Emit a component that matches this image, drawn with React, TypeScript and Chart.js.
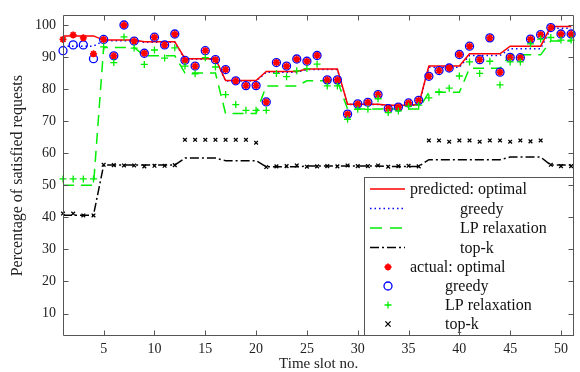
import React, { useEffect, useRef } from 'react';
import { Chart, registerables } from 'chart.js';

Chart.register(...registerables);

const slots = [1, 2, 3, 4, 5, 6, 7, 8, 9, 10, 11, 12, 13, 14, 15, 16, 17, 18, 19, 20, 21, 22, 23, 24, 25, 26, 27, 28, 29, 30, 31, 32, 33, 34, 35, 36, 37, 38, 39, 40, 41, 42, 43, 44, 45, 46, 47, 48, 49, 50, 51];
const xTickValues = [5, 10, 15, 20, 25, 30, 35, 40, 45, 50];
const yTickValues = [10, 20, 30, 40, 50, 60, 70, 80, 90, 100];

const predOptimal = [96.6, 96.6, 96.6, 96.6, 95.3, 95.3, 95.3, 95.3, 94.8, 94.8, 94.8, 94.8, 89.5, 89.5, 89.5, 89.5, 82.7, 82.7, 82.7, 82.7, 85.5, 85.5, 85.5, 85.5, 86.3, 86.3, 86.3, 86.3, 75.3, 75.3, 75.3, 75.3, 75.0, 75.0, 75.0, 75.2, 87.2, 87.2, 87.2, 87.2, 91.0, 91.0, 91.0, 91.0, 93.4, 93.4, 93.4, 93.4, 99.5, 99.5, 99.5];
const predGreedy = [93.4, 93.4, 93.4, 93.4, 95.1, 95.1, 95.1, 95.1, 94.6, 94.6, 94.6, 94.6, 89.3, 89.3, 89.3, 89.3, 82.5, 82.5, 82.5, 82.5, 85.3, 85.3, 85.3, 85.3, 86.1, 86.1, 86.1, 86.1, 75.2, 75.2, 75.2, 75.2, 74.9, 74.9, 74.9, 75.0, 86.8, 86.8, 86.8, 86.8, 90.5, 90.5, 90.5, 90.5, 92.6, 92.6, 92.6, 92.6, 99.0, 99.0, 99.0];
const predLP = [50.0, 50.0, 50.0, 50.0, 93.0, 93.0, 93.0, 93.0, 90.4, 90.4, 90.4, 90.4, 85.0, 85.0, 85.0, 85.0, 72.4, 72.4, 72.4, 72.4, 81.0, 81.0, 81.0, 81.0, 82.6, 82.6, 82.6, 82.6, 73.8, 73.8, 73.8, 73.8, 73.8, 73.8, 73.8, 73.8, 79.0, 79.0, 79.0, 79.0, 86.5, 86.5, 86.5, 86.5, 90.7, 90.7, 90.7, 90.7, 95.0, 95.0, 95.0];
const predTopk = [40.7, 40.7, 40.7, 40.7, 56.3, 56.3, 56.3, 56.3, 56.3, 56.3, 56.3, 56.3, 58.5, 58.5, 58.5, 58.5, 57.7, 57.7, 57.7, 57.7, 55.8, 55.8, 55.8, 55.8, 56.0, 56.0, 56.0, 56.0, 56.0, 56.0, 56.0, 56.0, 55.9, 55.9, 55.9, 55.9, 58.0, 58.0, 58.0, 58.0, 58.0, 58.0, 58.0, 58.0, 58.8, 58.8, 58.8, 58.8, 56.3, 56.3, 56.3];

const actOptimal = [95.5, 96.9, 96.0, 91.0, 95.5, 90.4, 100.0, 95.0, 91.2, 96.2, 93.8, 97.2, 89.0, 87.2, 92.0, 89.2, 86.1, 82.6, 81.1, 81.1, 76.0, 88.3, 87.2, 89.4, 88.7, 90.5, 82.9, 82.9, 72.2, 75.4, 75.9, 78.3, 73.9, 74.4, 75.7, 76.5, 84.0, 85.8, 86.6, 90.8, 93.4, 89.2, 96.0, 85.3, 89.9, 89.8, 95.6, 97.0, 99.2, 97.2, 97.2];
const actGreedy = [92.0, 93.8, 93.8, 89.5, 95.5, 90.4, 100.0, 95.0, 91.2, 96.2, 93.8, 97.2, 89.0, 87.2, 92.0, 89.2, 86.1, 82.6, 81.1, 81.1, 76.0, 88.3, 87.2, 89.4, 88.7, 90.5, 82.9, 82.9, 72.2, 75.4, 75.9, 78.3, 73.9, 74.4, 75.7, 76.5, 84.0, 85.8, 86.6, 90.8, 93.4, 89.2, 96.0, 85.3, 89.9, 89.8, 95.6, 97.0, 99.2, 97.2, 97.2];
const actLP = [52.0, 52.0, 52.0, 52.0, 93.2, 88.3, 96.3, 92.8, 87.7, 92.2, 89.7, 92.9, 87.2, 84.8, 89.8, 86.9, 78.3, 75.2, 73.4, 73.4, 73.4, 84.9, 83.9, 85.7, 86.4, 87.8, 81.0, 81.0, 70.6, 73.7, 73.7, 77.0, 72.7, 73.2, 74.7, 75.0, 77.3, 79.1, 80.3, 84.1, 88.5, 84.9, 88.7, 81.3, 88.5, 88.5, 94.1, 95.6, 96.1, 95.3, 95.3];
const actTopk = [41.2, 41.2, 40.6, 40.6, 56.4, 56.3, 56.2, 56.2, 55.9, 56.1, 56.1, 56.3, 64.2, 64.2, 64.2, 64.2, 64.2, 64.2, 64.2, 63.3, 55.7, 55.9, 56.0, 56.2, 55.8, 55.9, 56.0, 55.9, 56.2, 56.0, 56.0, 56.2, 55.8, 56.0, 56.1, 55.9, 64.0, 64.0, 63.6, 64.0, 64.0, 63.6, 64.0, 64.0, 63.6, 64.0, 63.7, 64.0, 56.4, 56.0, 56.0];

const legendLabels = ['predicted: optimal', 'greedy', 'LP relaxation', 'top-k', 'actual: optimal', 'greedy', 'LP relaxation', 'top-k'];

const FONT = '"Liberation Serif", "Times New Roman", serif';
const RED = '#ff0000';
const BLUE = '#0000ff';
const GREEN = '#00ee00';
const BLACK = '#000000';
const AXIS = '#555555';

function drawMarker(ctx: CanvasRenderingContext2D, kind: string, x: number, y: number, r: number, color: string, w: number) {
  ctx.save();
  ctx.strokeStyle = color;
  ctx.lineWidth = w;
  ctx.setLineDash([]);
  ctx.beginPath();
  if (kind === 'circle') {
    ctx.arc(x, y, r, 0, Math.PI * 2);
  } else if (kind === 'cross') {
    ctx.moveTo(x - r, y); ctx.lineTo(x + r, y);
    ctx.moveTo(x, y - r); ctx.lineTo(x, y + r);
  } else if (kind === 'crossRot') {
    const d = r * 0.75;
    ctx.moveTo(x - d, y - d); ctx.lineTo(x + d, y + d);
    ctx.moveTo(x - d, y + d); ctx.lineTo(x + d, y - d);
  } else {
    const d = r * 0.7;
    ctx.moveTo(x - r, y); ctx.lineTo(x + r, y);
    ctx.moveTo(x, y - r); ctx.lineTo(x, y + r);
    ctx.moveTo(x - d, y - d); ctx.lineTo(x + d, y + d);
    ctx.moveTo(x - d, y + d); ctx.lineTo(x + d, y - d);
  }
  ctx.stroke();
  ctx.restore();
}

export default function App() {
  const ref = useRef<HTMLCanvasElement>(null);

  useEffect(() => {
    const pts = (arr: number[]) => slots.map((s, i) => ({ x: s, y: arr[i] }));

    const framePlugin = {
      id: 'frameAndLegend',
      afterDraw(chart: any) {
        const { ctx, chartArea } = chart;
        const xs = chart.scales.x;
        const ys = chart.scales.y;
        const L = Math.round(chartArea.left) + 0.5;
        const R = Math.round(chartArea.right) - 0.5;
        const T = Math.round(chartArea.top) + 0.5;
        const B = Math.round(chartArea.bottom) - 0.5;

        // legend
        const lx = 364.5, ly = 177.5, lr = 573.5;
        ctx.save();
        ctx.fillStyle = '#ffffff';
        ctx.fillRect(lx, ly, lr - lx, B - ly);
        ctx.strokeStyle = AXIS;
        ctx.lineWidth = 1;
        ctx.strokeRect(lx, ly, lr - lx, B - ly);

        const rowsY = [189, 208.5, 228, 247.5, 267, 286, 305, 324];
        const textX = [410, 460, 460, 460, 410, 445, 445, 445];
        const lineStyles = [
          { color: RED, dash: [] as number[], w: 1.5 },
          { color: BLUE, dash: [1.5, 3], w: 1.5 },
          { color: GREEN, dash: [12, 8], w: 1.5 },
          { color: BLACK, dash: [9, 3, 2, 3], w: 1.5 },
        ];
        const markerKinds = [
          { kind: 'star', color: RED, r: 3.5, w: 1.8 },
          { kind: 'circle', color: BLUE, r: 4, w: 1.3 },
          { kind: 'cross', color: GREEN, r: 3.5, w: 1.3 },
          { kind: 'crossRot', color: BLACK, r: 3.5, w: 1.3 },
        ];
        for (let i = 0; i < 4; i++) {
          const s = lineStyles[i];
          ctx.beginPath();
          ctx.strokeStyle = s.color;
          ctx.lineWidth = s.w;
          ctx.setLineDash(s.dash);
          ctx.moveTo(370, rowsY[i]);
          ctx.lineTo(405, rowsY[i]);
          ctx.stroke();
        }
        ctx.setLineDash([]);
        for (let i = 0; i < 4; i++) {
          const m = markerKinds[i];
          drawMarker(ctx, m.kind, 388, rowsY[i + 4], m.r, m.color, m.w);
        }
        ctx.fillStyle = '#111111';
        ctx.font = '16px ' + FONT;
        ctx.textBaseline = 'middle';
        ctx.textAlign = 'left';
        legendLabels.forEach((t, i) => ctx.fillText(t, textX[i], rowsY[i] + 1));

        // frame
        ctx.strokeStyle = AXIS;
        ctx.lineWidth = 1;
        ctx.beginPath();
        ctx.rect(L, T, R - L, B - T);
        ctx.stroke();
        // inward ticks
        const tl = 5;
        ctx.beginPath();
        xTickValues.forEach((v) => {
          const px = Math.round(xs.getPixelForValue(v)) + 0.5;
          ctx.moveTo(px, B); ctx.lineTo(px, B - tl);
          ctx.moveTo(px, T); ctx.lineTo(px, T + tl);
        });
        yTickValues.forEach((v) => {
          const py = Math.round(ys.getPixelForValue(v)) + 0.5;
          ctx.moveTo(L, py); ctx.lineTo(L + tl, py);
          ctx.moveTo(R, py); ctx.lineTo(R - tl, py);
        });
        ctx.stroke();
        ctx.restore();
      },
    };

    const lineDs = (label: string, data: number[], color: string, dash: number[], order: number) => ({
      label,
      data: pts(data),
      borderColor: color,
      backgroundColor: color,
      borderWidth: 1.5,
      borderDash: dash,
      pointRadius: 0,
      tension: 0,
      showLine: true,
      fill: false,
      order,
    });
    const markDs = (label: string, data: number[], color: string, style: string, r: number, w: number, order: number) => ({
      label,
      data: pts(data),
      borderColor: color,
      backgroundColor: 'rgba(0,0,0,0)',
      borderWidth: w,
      pointStyle: style,
      pointRadius: r,
      showLine: false,
      clip: false,
      order,
    });

    const chart = new Chart(ref.current as HTMLCanvasElement, {
      type: 'line',
      data: {
        datasets: [
          lineDs('predicted: optimal', predOptimal, RED, [], 5),
          lineDs('greedy', predGreedy, BLUE, [1.5, 3], 6),
          lineDs('LP relaxation', predLP, GREEN, [11, 7], 7),
          lineDs('top-k', predTopk, BLACK, [9, 3, 2, 3], 8),
          markDs('actual: optimal', actOptimal, RED, 'star', 3.5, 1.8, 3),
          markDs('greedy', actGreedy, BLUE, 'circle', 4, 1.3, 4),
          markDs('LP relaxation', actLP, GREEN, 'cross', 3.5, 1.3, 2),
          markDs('top-k', actTopk, BLACK, 'crossRot', 2.6, 1.3, 1),
        ] as any,
      },
      options: {
        responsive: false,
        animation: false,
        events: [],
        layout: { padding: { top: 9, right: 4, left: 0, bottom: 0 } },
        plugins: { legend: { display: false }, tooltip: { enabled: false } },
        scales: {
          x: {
            type: 'linear',
            min: 1,
            max: 51.3,
            grid: { display: false, drawTicks: false },
            border: { display: false },
            afterBuildTicks: (a: any) => { a.ticks = xTickValues.map((v) => ({ value: v })); },
            afterFit: (a: any) => { a.height = 36; },
            ticks: { padding: 5, autoSkip: false, maxRotation: 0, color: '#222222', font: { family: FONT, size: 14 } },
            title: { display: true, text: 'Time slot no.', color: '#222222', font: { family: FONT, size: 15 }, padding: { top: 0, bottom: -1 } },
          },
          y: {
            type: 'linear',
            min: 3,
            max: 103,
            grid: { display: false, drawTicks: false },
            border: { display: false },
            afterBuildTicks: (a: any) => { a.ticks = yTickValues.map((v) => ({ value: v })); },
            afterFit: (a: any) => { a.width = 63; },
            ticks: { padding: 7, color: '#222222', font: { family: FONT, size: 14 } },
            title: { display: true, text: 'Percentage of satisfied requests', color: '#222222', font: { family: FONT, size: 16 }, padding: { top: 8, bottom: 0 } },
          },
        },
      } as any,
      plugins: [framePlugin],
    });
    return () => chart.destroy();
  }, []);

  return (
    <div style={{ position: 'absolute', left: 0, top: 0, width: 580, height: 372, background: '#ffffff' }}>
      <canvas ref={ref} width={580} height={372} style={{ display: 'block' }} />
    </div>
  );
}
